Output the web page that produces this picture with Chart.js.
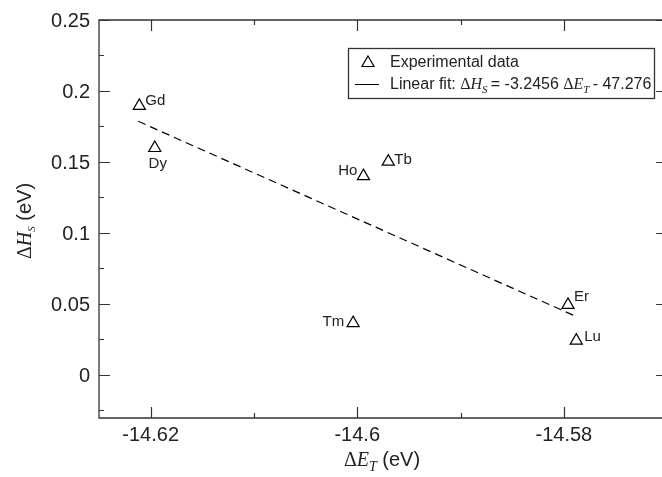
<!DOCTYPE html>
<html>
<head>
<meta charset="utf-8">
<script src="https://cdn.jsdelivr.net/npm/chart.js@4/dist/chart.umd.min.js"></script>
<style>
  html, body { margin: 0; padding: 0; background: #fff; }
  canvas { display: block; }
</style>
</head>
<body>
<canvas id="chart" width="662" height="477"></canvas>
<script>
// data
const elements = ['Gd', 'Dy', 'Ho', 'Tb', 'Tm', 'Er', 'Lu'];
const deltaE = [-14.6211, -14.6196, -14.5994, -14.5970, -14.6004, -14.5796, -14.5788];
const deltaH = [0.1895, 0.1598, 0.1400, 0.1502, 0.0364, 0.0492, 0.0240];

// linear fit: dH = -3.2456 dE - 47.276, drawn between first and last point
const fitE = [-14.6212, -14.5788];
const fitH = [0.1786, 0.0410];

const xMajor = [-14.62, -14.6, -14.58];
const xMajorLabels = ['-14.62', '-14.6', '-14.58'];
const xMinor = [-14.61, -14.59];
const yMajor = [0, 0.05, 0.1, 0.15, 0.2, 0.25];
const yMajorLabels = ['0', '0.05', '0.1', '0.15', '0.2', '0.25'];
const yMinor = [-0.025, 0.025, 0.075, 0.125, 0.175, 0.225];
// visible window; the right axis line (-14.57) sits just past the image edge
const xRange = [-14.625, -14.5705];
const xAxisEnd = -14.57;
const yRange = [-0.0305, 0.25];

const SANS = '"Liberation Sans", Arial, sans-serif';
const SERIF = '"Liberation Serif", "Times New Roman", serif';
const INK = '#222';

// label placement next to each marker: dx, dy (baseline), align
const labelPos = {
    Gd: [6, -1, 'left'],
    Dy: [3, 20, 'center'],
    Ho: [-6, -1, 'right'],
    Tb: [6, 2, 'left'],
    Tm: [-9, 3, 'right'],
    Er: [6, -4, 'left'],
    Lu: [8, 0, 'left'],
};

function drawRuns(ctx, parts, x, y, align) {
    let total = 0;
    parts.forEach(p => { ctx.font = p.f; total += ctx.measureText(p.t).width; });
    let cx = align === 'center' ? x - total / 2 : x;
    parts.forEach(p => {
        ctx.font = p.f;
        ctx.fillText(p.t, cx, y + (p.dy || 0));
        cx += ctx.measureText(p.t).width;
    });
}

const decorations = {
    id: 'decorations',
    afterDatasetsDraw(chart) {
        const { ctx, chartArea: a, scales: { x, y } } = chart;
        const right = x.getPixelForValue(xAxisEnd);
        ctx.save();

        // frame
        ctx.strokeStyle = '#333';
        ctx.lineWidth = 1.3;
        ctx.beginPath();
        ctx.rect(a.left, a.top, right - a.left, a.bottom - a.top);
        ctx.stroke();

        // inward ticks
        ctx.lineWidth = 1.2;
        ctx.beginPath();
        const xt = (v, len) => {
            const px = Math.round(x.getPixelForValue(v)) + 0.5;
            ctx.moveTo(px, a.bottom); ctx.lineTo(px, a.bottom - len);
            ctx.moveTo(px, a.top); ctx.lineTo(px, a.top + len);
        };
        const yt = (v, len) => {
            const py = Math.round(y.getPixelForValue(v)) + 0.5;
            ctx.moveTo(a.left, py); ctx.lineTo(a.left + len, py);
            ctx.moveTo(right, py); ctx.lineTo(right - len, py);
        };
        xMajor.forEach(v => xt(v, 11));
        xMinor.forEach(v => xt(v, 5));
        yMajor.forEach(v => yt(v, 11));
        yMinor.forEach(v => yt(v, 5));
        ctx.stroke();

        // tick labels
        ctx.fillStyle = INK;
        ctx.font = `20px ${SANS}`;
        ctx.textBaseline = 'alphabetic';
        ctx.textAlign = 'center';
        xMajor.forEach((v, i) => ctx.fillText(xMajorLabels[i], x.getPixelForValue(v), 441));
        ctx.textAlign = 'right';
        yMajor.forEach((v, i) => ctx.fillText(yMajorLabels[i], 90, y.getPixelForValue(v) + 7));

        // axis titles
        ctx.textAlign = 'left';
        drawRuns(ctx, [
            { t: '\u0394', f: `20px ${SERIF}` },
            { t: 'E', f: `italic 20px ${SERIF}` },
            { t: 'T', f: `italic 14px ${SERIF}`, dy: 5 },
            { t: ' (eV)', f: `20px ${SANS}` },
        ], 382, 466, 'center');
        ctx.save();
        ctx.translate(31, 221);
        ctx.rotate(-Math.PI / 2);
        drawRuns(ctx, [
            { t: '\u0394', f: `20px ${SERIF}` },
            { t: 'H', f: `italic 20px ${SERIF}` },
            { t: 'S', f: `italic 11px ${SERIF}`, dy: 4 },
            { t: ' (eV)', f: `20px ${SANS}` },
        ], 0, 0, 'center');
        ctx.restore();

        // element labels
        ctx.font = `15px ${SANS}`;
        elements.forEach((name, i) => {
            const [dx, dy, al] = labelPos[name];
            ctx.textAlign = al;
            ctx.fillText(name, x.getPixelForValue(deltaE[i]) + dx, y.getPixelForValue(deltaH[i]) + dy);
        });

        // legend
        ctx.fillStyle = '#fff';
        ctx.fillRect(348.5, 48.5, 306, 50);
        ctx.strokeStyle = '#333';
        ctx.lineWidth = 1.3;
        ctx.strokeRect(348.5, 48.5, 306, 50);
        ctx.strokeStyle = '#000';
        ctx.lineWidth = 1.2;
        ctx.beginPath();
        const r = 7, tx = 368, ty = 63;
        ctx.moveTo(tx, ty - r);
        ctx.lineTo(tx + r * Math.sin(2 * Math.PI / 3), ty + r / 2);
        ctx.lineTo(tx - r * Math.sin(2 * Math.PI / 3), ty + r / 2);
        ctx.closePath();
        ctx.moveTo(355, 84.5); ctx.lineTo(379, 84.5);
        ctx.stroke();
        ctx.fillStyle = INK;
        ctx.textAlign = 'left';
        ctx.font = `16px ${SANS}`;
        ctx.fillText('Experimental data', 390, 67);
        drawRuns(ctx, [
            { t: 'Linear fit: ', f: `16px ${SANS}` },
            { t: '\u0394', f: `16px ${SERIF}` },
            { t: 'H', f: `italic 16px ${SERIF}` },
            { t: 'S', f: `italic 11px ${SERIF}`, dy: 4 },
            { t: '\u2009= -3.2456 ', f: `16px ${SANS}` },
            { t: '\u0394', f: `16px ${SERIF}` },
            { t: 'E', f: `italic 16px ${SERIF}` },
            { t: 'T', f: `italic 11px ${SERIF}`, dy: 4 },
            { t: '\u2009- 47.276', f: `16px ${SANS}` },
        ], 390, 89, 'left');

        ctx.restore();
    }
};

new Chart(document.getElementById('chart'), {
    type: 'scatter',
    data: {
        datasets: [
            {
                label: 'Experimental data',
                data: deltaE.map((e, i) => ({ x: e, y: deltaH[i] })),
                pointStyle: 'triangle',
                pointRadius: 7,
                borderColor: '#000',
                borderWidth: 1.2,
                backgroundColor: 'rgba(0,0,0,0)',
            },
            {
                label: 'Linear fit',
                type: 'line',
                data: fitE.map((e, i) => ({ x: e, y: fitH[i] })),
                borderColor: '#000',
                borderWidth: 1.2,
                borderDash: [8, 5],
                pointRadius: 0,
                fill: false,
            }
        ]
    },
    options: {
        responsive: false,
        animation: false,
        layout: { autoPadding: false, padding: { left: 99, right: 0, top: 20, bottom: 59 } },
        scales: {
            x: { type: 'linear', min: xRange[0], max: xRange[1], display: false },
            y: { type: 'linear', min: yRange[0], max: yRange[1], display: false },
        },
        plugins: { legend: { display: false }, tooltip: { enabled: false } },
    },
    plugins: [decorations]
});
</script>
</body>
</html>
